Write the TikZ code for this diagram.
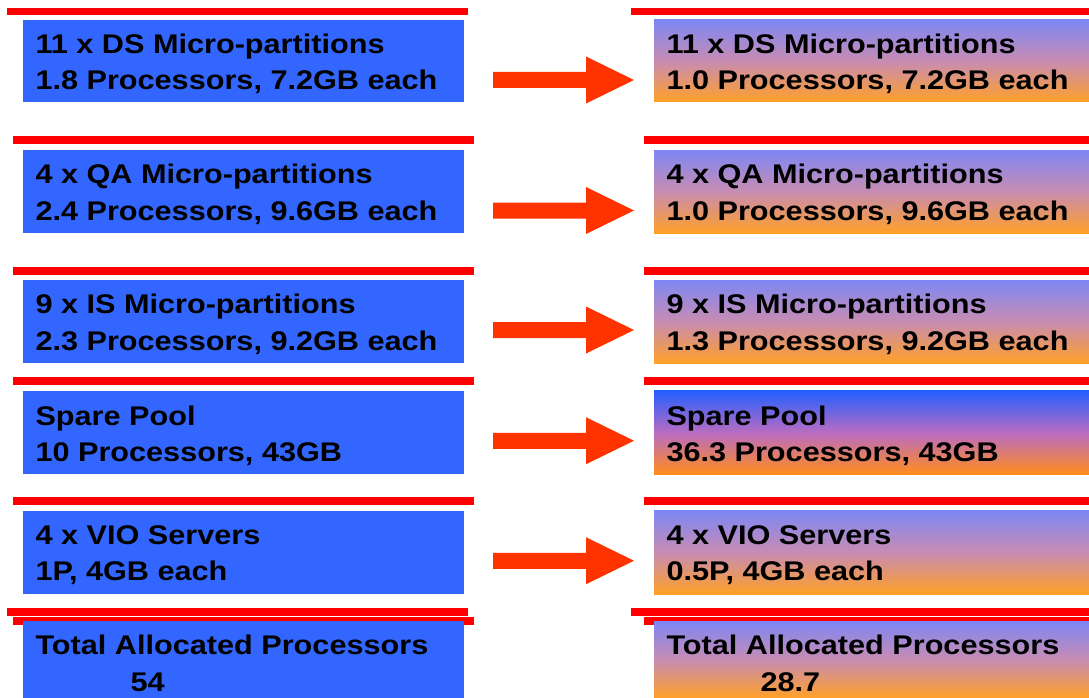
\documentclass[tikz,border=0pt]{standalone}
\usepackage{fontspec}
\setmainfont[FakeStretch=1.135]{Liberation Sans}
\usetikzlibrary{calc}
\definecolor{leftblue}{RGB}{51,102,255}
\definecolor{barred}{RGB}{255,0,0}
\definecolor{arrowred}{RGB}{255,51,0}
\definecolor{gA}{RGB}{255,160,40}
\definecolor{gB}{RGB}{200,140,178}
\definecolor{gC}{RGB}{125,135,245}
\definecolor{sA}{RGB}{255,140,30}
\definecolor{sB}{RGB}{185,108,195}
\definecolor{sC}{RGB}{35,95,255}
\pgfdeclareverticalshading{newalloc}{100bp}{color(0bp)=(gA); color(25bp)=(gA); color(50bp)=(gB); color(75bp)=(gC); color(100bp)=(gC)}
\pgfdeclareverticalshading{sparealloc}{100bp}{color(0bp)=(sA); color(25bp)=(sA); color(50bp)=(sB); color(75bp)=(sC); color(100bp)=(sC)}
\newcommand\twoline[2]{\vtop{\hbox{#1}\hbox{#2}}}
\begin{document}
\begin{tikzpicture}[x=1pt,y=-1pt,
  bar/.style={fill=barred},
  oldbox/.style={fill=leftblue, draw=none, anchor=north west, minimum width=441pt, inner sep=0pt, outer sep=0pt},
  newbox/.style={shading=newalloc, draw=none, anchor=north west, minimum width=435pt, inner sep=0pt, outer sep=0pt},
  sparebox/.style={shading=sparealloc, draw=none, anchor=north west, minimum width=435pt, inner sep=0pt, outer sep=0pt},
  label/.style={anchor=base west, inner sep=0pt, outer sep=0pt, font=\fontsize{27}{36.7}\selectfont\bfseries, text=black},
  blockarrow/.style={fill=arrowred}]
\useasboundingbox (0,0) rectangle (1089,698);
% red bars (left)
\fill[bar] (7,8) rectangle (468,15.3);
\fill[bar] (13,136) rectangle (474,144);
\fill[bar] (13,267) rectangle (474,275);
\fill[bar] (13,377) rectangle (474,385);
\fill[bar] (13,497) rectangle (474,505);
\fill[bar] (7,608) rectangle (468,616);
\fill[bar] (13,617.3) rectangle (474,625.3);
% red bars (right)
\fill[bar] (631,8) rectangle (1089,15.3);
\fill[bar] (644,136) rectangle (1089,144);
\fill[bar] (644,267) rectangle (1089,275);
\fill[bar] (644,377) rectangle (1089,385);
\fill[bar] (644,497) rectangle (1089,505);
\fill[bar] (631,608) rectangle (1089,616);
\fill[bar] (644,617.3) rectangle (1089,625.3);
% left boxes
\node[oldbox, minimum height=82pt] (L1) at (23,20) {};
\node[oldbox, minimum height=83pt] (L2) at (23,150) {};
\node[oldbox, minimum height=83pt] (L3) at (23,280) {};
\node[oldbox, minimum height=83.3pt] (L4) at (23,390.7) {};
\node[oldbox, minimum height=83.3pt] (L5) at (23,510.7) {};
\node[oldbox, minimum height=77pt] (L6) at (23,621) {};
% right boxes
\node[newbox, minimum height=82pt] (R1) at (654,20) {};
\node[newbox, minimum height=83pt] (R2) at (654,150) {};
\node[newbox, minimum height=83pt] (R3) at (654,280) {};
\node[sparebox, minimum height=83.3pt] (R4) at (654,390.7) {};
\node[newbox, minimum height=83.3pt] (R5) at (654,510.7) {};
\node[newbox, minimum height=77pt] (R6) at (654,621) {};
% texts
\node[label] (L1t) at ($(L1.north west)+(12.5,33.3)$) {\twoline{11 x DS Micro-partitions}{1.8 Processors, 7.2GB each}};
\node[label] (L2t) at ($(L2.north west)+(12.5,33.3)$) {\twoline{4 x QA Micro-partitions}{2.4 Processors, 9.6GB each}};
\node[label] (L3t) at ($(L3.north west)+(12.5,33.3)$) {\twoline{9 x IS Micro-partitions}{2.3 Processors, 9.2GB each}};
\node[label] (L4t) at ($(L4.north west)+(12.5,34.3)$) {\twoline{Spare Pool}{10 Processors, 43GB}};
\node[label] (L5t) at ($(L5.north west)+(12.5,33.3)$) {\twoline{4 x VIO Servers}{1P, 4GB each}};
\node[label] (L6t) at ($(L6.north west)+(12.5,33.3)$) {\twoline{Total Allocated Processors}{\kern95pt 54}};
\node[label] (R1t) at ($(R1.north west)+(12.5,33.3)$) {\twoline{11 x DS Micro-partitions}{1.0 Processors, 7.2GB each}};
\node[label] (R2t) at ($(R2.north west)+(12.5,33.3)$) {\twoline{4 x QA Micro-partitions}{1.0 Processors, 9.6GB each}};
\node[label] (R3t) at ($(R3.north west)+(12.5,33.3)$) {\twoline{9 x IS Micro-partitions}{1.3 Processors, 9.2GB each}};
\node[label] (R4t) at ($(R4.north west)+(12.5,34.3)$) {\twoline{Spare Pool}{36.3 Processors, 43GB}};
\node[label] (R5t) at ($(R5.north west)+(12.5,33.3)$) {\twoline{4 x VIO Servers}{0.5P, 4GB each}};
\node[label] (R6t) at ($(R6.north west)+(12.5,33.3)$) {\twoline{Total Allocated Processors}{\kern94pt 28.7}};
% block arrows
\foreach \n/\d in {1/19,2/19,3/8.5,4/8.4,5/8.4}{
  \coordinate (t\n) at ($(L\n.east)+(170,\d)$);
  \fill[blockarrow] ($(t\n)+(-141,-8)$) -- ($(t\n)+(-48,-8)$) -- ($(t\n)+(-48,-23.5)$) -- (t\n)
    -- ($(t\n)+(-48,23.5)$) -- ($(t\n)+(-48,8)$) -- ($(t\n)+(-141,8)$) -- cycle;
}
\end{tikzpicture}
\end{document}
